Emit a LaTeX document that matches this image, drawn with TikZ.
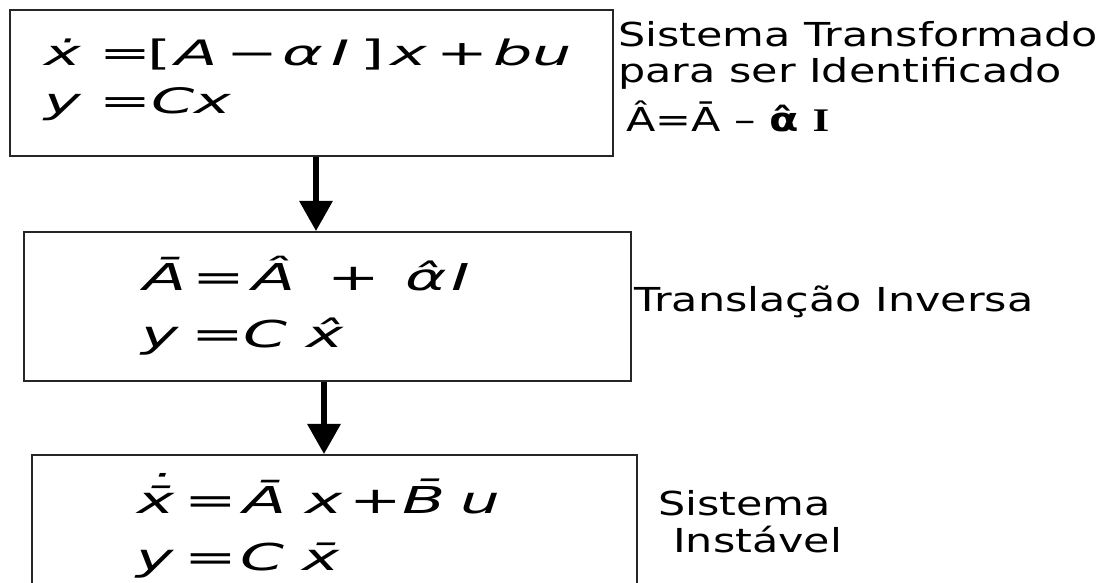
\documentclass[tikz,border=0pt]{standalone}
\usepackage{fontspec}
\usepackage{graphicx}
\setmainfont{DejaVu Sans}[ItalicFont={DejaVu Sans Oblique},BoldFont={DejaVu Sans Bold}]
\newfontfamily\lser{Liberation Serif}
\usetikzlibrary{arrows.meta}
\newcommand{\tx}[1]{\scalebox{1.30}[1]{#1}}
\newcommand{\mxa}[1]{\scalebox{1.77}[1]{\itshape #1}}
\newcommand{\mxb}[1]{\scalebox{1.7}[1]{\itshape #1}}
\newcommand{\gp}[1]{\hspace{#1pt}}
\newcommand{\up}[1]{{\upshape #1}}
\newcommand{\xbd}{{\ooalign{x̄\cr\hfil\hspace{2pt}\raisebox{0.3em}{˙}\hfil\cr}}}
\tikzset{
  box/.style={draw=black!85, line width=2.4pt, inner sep=0pt, fill=none},
  lbl/.style={anchor=base west, inner sep=0pt, font=\fontsize{33}{36}\selectfont},
  eqa/.style={anchor=base west, inner sep=0pt, font=\fontsize{35}{38}\selectfont},
  eqb/.style={anchor=base west, inner sep=0pt, font=\fontsize{37}{40}\selectfont},
  arr/.style={line width=6pt, -{Triangle[width=34pt,length=30pt,line width=0pt]}}
}
\begin{document}
\begin{tikzpicture}[x=1pt,y=-1pt]
\clip (0,0) rectangle (1109,583);
\fill[white] (0,0) rectangle (1109,583);
% boxes
\node[box, minimum width=603pt, minimum height=146pt] (b1) at (311.5,83) {};
\node[box, minimum width=607pt, minimum height=149pt] (b2) at (327.5,306.5) {};
\node[box, minimum width=605pt, minimum height=147pt] (b3) at (334.5,528.5) {};
% arrows
\coordinate (a1) at (316,0);
\coordinate (a2) at (324,0);
\draw[arr] (b1.south -| a1) -- (b2.north -| a1);
\draw[arr] (b2.south -| a2) -- (b3.north -| a2);
% equations box 1
\node[eqa] (e11) at (44,66) {\mxa{ẋ\gp{10.5}\up{=}\gp{-2}\up{[}\gp{2.1}A\gp{4.9}\up{−}\gp{2.3}α\gp{4.5}I\gp{6}\up{]}\gp{3.4}x\gp{5.3}\up{+}\gp{2.8}b\gp{0}u}};
\node[eqa] (e12) at (44,114) {\mxa{y\gp{10.5}\up{=}\gp{0}C\gp{0}x}};
% equations box 2
\node[eqb] (e21) at (143,290) {\mxb{Ā\gp{3.5}\up{=}\gp{4.3}Â\gp{18.8}\up{+}\gp{14.9}α̂\gp{2.9}I}};
\node[eqb] (e22) at (141,347) {\mxb{y\gp{7.5}\up{=}\gp{0}C\gp{11.2}x̂}};
% equations box 3
\node[eqb] (e31) at (137,513) {\mxb{\xbd\gp{5.8}\up{=}\gp{3.7}Ā\gp{11.2}x\gp{4}\up{+}\gp{0}B̄\gp{8.7}u}};
\node[eqb] (e32) at (136,570) {\mxb{y\gp{6.4}\up{=}\gp{2}C\gp{10.6}x̄}};
% labels
\node[lbl] (l11) at (618,47) {\tx{Sistema Transformado}};
\node[lbl] (l12) at (618,83) {\tx{para ser Identificado}};
\node[lbl] (l13) at (626,132) {\tx{Â=Ā – \textbf{α̂} {\lser\bfseries I}}};
\node[lbl] (l2) at (634,311) {\tx{Translação Inversa}};
\node[lbl] (l31) at (658,515) {\tx{Sistema}};
\node[lbl] (l32) at (673,552) {\tx{Instável}};
\end{tikzpicture}
\end{document}
